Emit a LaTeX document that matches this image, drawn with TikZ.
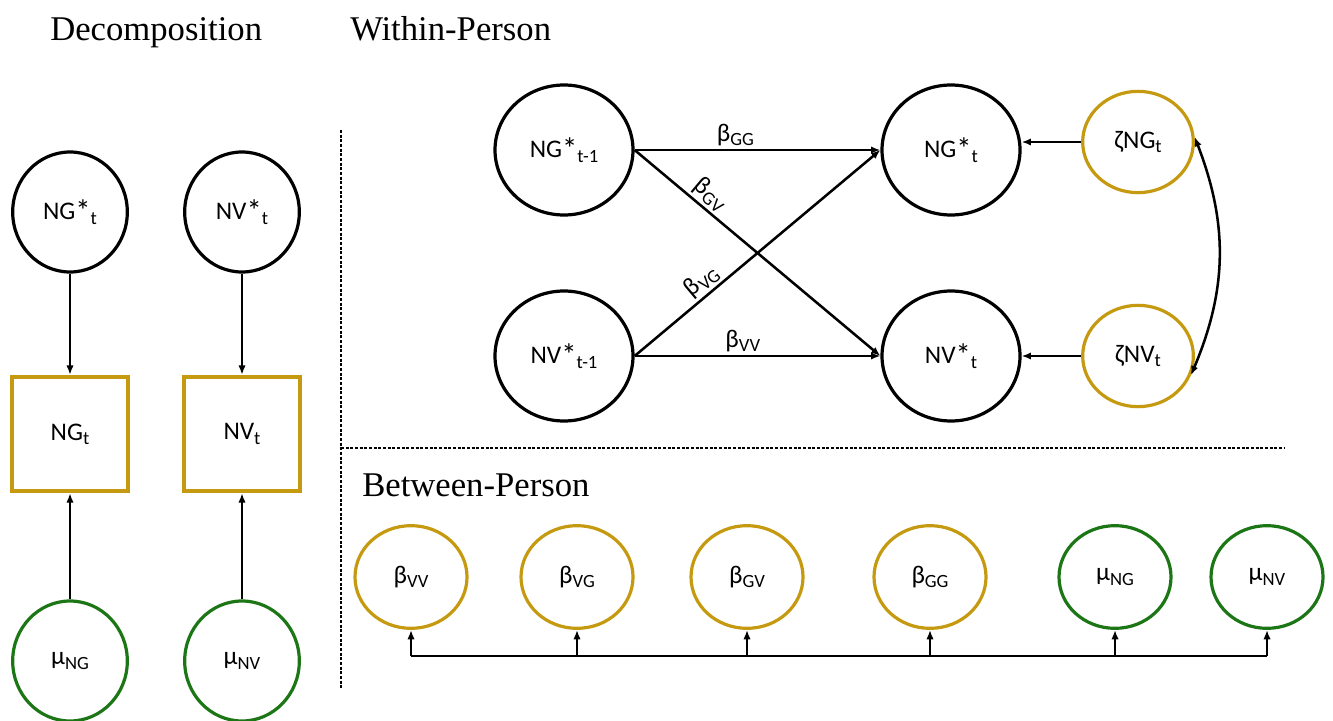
\documentclass[tikz,border=0pt]{standalone}
\usepackage{fontspec}
\setmainfont{Carlito}
\newfontfamily\titlefont{Liberation Serif}
\usetikzlibrary{arrows.meta,shapes.geometric}
\definecolor{gold}{RGB}{197,154,16}
\definecolor{dgreen}{RGB}{28,118,22}
\newcommand\nfont{\fontsize{19}{22}\selectfont}
\newcommand\tfont{\titlefont\fontsize{26}{30}\selectfont}
\newcommand\sbx[1]{\raisebox{-0.35ex}{\fontsize{14}{16}\selectfont #1}}
\newcommand\bigast{\raisebox{-0.15ex}{\fontsize{23}{24}\selectfont *}}
\begin{document}
\begin{tikzpicture}[x=0.75pt,y=-0.75pt,
  base/.style={ellipse,draw,inner sep=0pt,font=\nfont,line width=2.4pt},
  bigc/.style={base,minimum width=103.5pt,minimum height=97.5pt},
  leftc/.style={base,minimum width=86pt,minimum height=90pt},
  zetac/.style={base,draw=gold,minimum width=83pt,minimum height=76pt},
  betac/.style={base,draw=gold,minimum width=84pt,minimum height=77pt},
  muc/.style={base,draw=dgreen},
  obsbox/.style={rectangle,draw=gold,line width=2.8pt,minimum width=87pt,minimum height=86pt,inner sep=0pt,font=\nfont},
  arr/.style={line width=1.9pt,-{Latex[length=7pt,width=5.5pt]}},
  darr/.style={line width=1.9pt,{Latex[length=7pt,width=5.5pt]}-{Latex[length=7pt,width=5.5pt]}},
  lab/.style={font=\nfont,inner sep=2pt},
  sepline/.style={line width=1.2pt,dash pattern=on 2.2pt off 1.3pt},
  title/.style={font=\tfont,inner sep=0pt,anchor=base west}]
\useasboundingbox (0,0) rectangle (1333,720);

% titles
\node[title] (tdec) at (50,41) {Decomposition};
\node[title] (twp) at (350,41) {Within-Person};
\node[title] (tbp) at (362,496) {Between-Person};

% separators
\draw[sepline] (341,130) -- (341,688);
\draw[sepline] (341,448) -- (1285,448);

% decomposition
\node[leftc] (ngs) at (70,212) {NG\bigast\sbx{t}};
\node[leftc] (nvs) at (242,212) {NV\bigast\sbx{t}};
\node[obsbox] (ngo) at (70,434) {NG\sbx{t}};
\node[obsbox] (nvo) at (242,434) {NV\sbx{t}};
\node[leftc,muc] (mng) at (70,661) {μ\sbx{NG}};
\node[leftc,muc] (mnv) at (242,661) {μ\sbx{NV}};
\draw[arr] (ngs) -- (ngo);
\draw[arr] (nvs) -- (nvo);
\draw[arr] (mng) -- (ngo);
\draw[arr] (mnv) -- (nvo);

% within-person
\node[bigc] (ng1) at (564,150) {NG\bigast\sbx{t-1}};
\node[bigc] (nv1) at (564,356) {NV\bigast\sbx{t-1}};
\node[bigc] (ng) at (951,150) {NG\bigast\sbx{t}};
\node[bigc] (nv) at (951,356) {NV\bigast\sbx{t}};
\node[zetac] (zng) at (1138,142) {ζNG\sbx{t}};
\node[zetac] (znv) at (1138,356) {ζNV\sbx{t}};

\draw[arr] (ng1.east) -- node[lab,pos=0.41,above] {β\sbx{GG}} (ng.west);
\draw[arr] (ng1.east) -- node[lab,pos=0.27,above,sloped] {β\sbx{GV}} (nv.west);
\draw[arr] (nv1.east) -- node[lab,pos=0.31,above,sloped] {β\sbx{VG}} (ng.west);
\draw[arr] (nv1.east) -- node[lab,pos=0.44,above] {β\sbx{VV}} (nv.west);
\draw[arr] (zng.west) -- (zng.west -| ng.east);
\draw[arr] (znv.west) -- (znv.west -| nv.east);
\draw[darr] (zng.5) to[bend left=22] (znv.-20);

% between-person
\node[betac] (bvv) at (411,577) {β\sbx{VV}};
\node[betac] (bvg) at (577,577) {β\sbx{VG}};
\node[betac] (bgv) at (747,577) {β\sbx{GV}};
\node[betac] (bgg) at (930,577) {β\sbx{GG}};
\node[betac,muc] (bmng) at (1115,577) {μ\sbx{NG}};
\node[betac,muc] (bmnv) at (1267,577) {μ\sbx{NV}};
\coordinate (bus) at (0,656);
\draw[line width=2.1pt] (bvv.south |- bus) -- (bmnv.south |- bus);
\foreach \n in {bvv,bvg,bgv,bgg,bmng,bmnv}
  \draw[arr] (\n.south |- bus) -- (\n.south);
\end{tikzpicture}
\end{document}
